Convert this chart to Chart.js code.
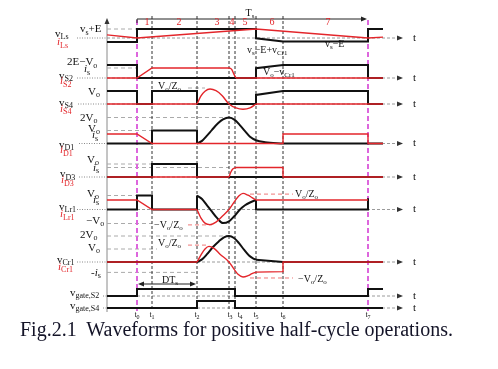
<!DOCTYPE html>
<html><head><meta charset="utf-8">
<script src="https://cdn.jsdelivr.net/npm/chart.js@4/dist/chart.umd.min.js"></script>
<style>
html,body{margin:0;padding:0;background:#fff;}
#wrap{position:relative;width:498px;height:369px;}
#cap{position:absolute;left:20px;top:317px;font:20px "Liberation Serif","Times New Roman",serif;line-height:24px;color:#141428;white-space:pre;}
</style></head><body>
<div id="wrap"><canvas id="c" width="498" height="369"></canvas>
<div id="cap">Fig.2.1  Waveforms for positive half-cycle operations.</div></div>
<script>
// ---- time instants (time units, t0 = 0) ----
const instantNames = ['t0','t1','t2','t3','t4','t5','t6','t7'];
const instantTimes = [0, 15, 60, 92, 98, 119, 146, 231];
const intervalLabels = ['1','2','3','4','5','6','7'];
const intervalCenters = [10, 42, 80, 95, 108, 135, 191];

// ---- waveform values: [time, level] (levels in per-row units) ----
// row 1: vLs / iLs  (unit = vs+E)
const vLs = [[-30,-0.45],[0,-0.45],[0,1],[119,1],[119,-0.03],[146,-0.4],[231,-0.4],[231,1],[246,1]];
const iLs = [[-30,0.35],[0,0],[119,1],[231,0],[246,0.1]];
// row 2: vS2 / iS2  (unit = 2E-Vo)
const vS2 = [[-30,1],[0,1],[0,0],[119,0],[119,0.75],[146,1],[231,1],[231,0],[246,0]];
const iS2_a = [[-30,0],[0,0],[15,0.77],[93,0.77]];
const iS2_b = [[93,0.77],[95,0.62],[97,0.28],[99,0]];
const iS2_c = [[99,0],[246,0]];
// row 3: vS4 / iS4  (unit = Vo)
const vS4 = [[-30,1],[0,1],[0,0],[15,0],[15,1],[60,1],[60,0],[119,0],[119,0.7],[146,1],[231,1],[231,0],[246,0]];
const iS4_a = [[-30,0],[60,0]];
const iS4_b = [[60,0],[64,0.62],[68,0.98],[73,1.15],[79,1.02],[85,0.65],[92,0],[99,-0.3],[106,-0.4],[113,-0.3],[119,0]];
const iS4_c = [[119,0],[246,0]];
// row 4: vD1 / iD1
const vD1_a = [[-30,0],[15,0],[15,1],[60,1],[60,0]];
const vD1_b = [[60,0],[65,0.2],[70,0.6],[75,1.05],[81,1.55],[86,1.85],[92,2.0],[98,1.8],[103,1.4],[108,0.95],[113,0.52],[119,0.25],[128,0.1],[146,0]];
const vD1_c = [[146,0],[246,0]];
const iD1 = [[-30,0.73],[0,0.73],[15,0],[146,0],[146,0.73],[231,0.73],[231,0],[246,0]];
// row 5: vD3 / iD3
const vD3 = [[-30,0],[15,0],[15,1],[60,1],[60,0],[246,0]];
const iD3_a = [[-30,0],[92,0]];
const iD3_b = [[92,0],[94,0.4],[96,0.63],[99,0.73]];
const iD3_c = [[99,0.73],[146,0.73],[146,0],[246,0]];
// row 6: vLr1 / iLr1
const vLr1_a = [[-30,0],[0,0],[0,1],[15,1],[15,0],[60,0],[60,1]];
const vLr1_b = [[60,1],[65,0.75],[70,0.3],[75,-0.15],[80,-0.6],[86,-0.97],[92,-0.85],[97,-0.5],[103,0],[108,0.3],[113,0.5],[119,0.68]];
const vLr1_c = [[119,0.68],[119,0],[231,0],[231,0.8]];
const iLr1_a = [[-30,0.68],[0,0.68],[15,0],[60,0]];
const iLr1_b = [[60,0],[64,-0.62],[68,-0.97],[73,-1.08],[79,-0.9],[85,-0.5],[92,0],[98,0.62],[102,0.98],[106,1.15],[111,1.02],[115,0.85],[119,0.68]];
const iLr1_c = [[119,0.68],[231,0.68]];
// row 7: vCr1 / iCr1
const vCr1_a = [[-30,0],[60,0]];
const vCr1_b = [[60,0],[65,0.2],[70,0.6],[76,1.15],[82,1.6],[87,1.9],[92,2.0],[97,1.85],[102,1.45],[107,0.95],[112,0.5],[116,0.28],[119,0.18]];
const vCr1_c = [[119,0.18],[146,0],[246,0]];
const iCr1_a = [[-30,0],[60,0]];
const iCr1_b = [[60,0],[64,0.55],[68,1.0],[72,1.2],[77,1.05],[83,0.6],[92,0],[97,-0.55],[101,-0.95],[106,-1.15],[111,-1.05],[115,-0.9],[119,-0.78]];
const iCr1_c = [[119,-0.78],[146,-0.74],[146,0],[246,0]];
// rows 8, 9: gate signals
const gS2 = [[-30,0],[0,0],[0,1],[98,1],[98,0],[231,0],[231,1],[246,1]];
const gS4 = [[-30,0],[60,0],[60,1],[98,1],[98,0],[246,0]];

// ---- layout of rows (pixel baseline, px per unit) ----
const rows = {
  Ls:{base:38,scale:9,lab:77}, S2:{base:78,scale:13,lab:77}, S4:{base:104,scale:13,lab:78},
  D1:{base:143.5,scale:13,lab:79}, D3:{base:177,scale:13,lab:79}, Lr:{base:209.5,scale:14,lab:77},
  Cr:{base:262,scale:13,lab:77}, G2:{base:296,scale:7,lab:103}, G4:{base:308,scale:7,lab:103}
};
const RED = '#e3262b', BLK = '#111111';

const series = [
  ['Ls',BLK,[[vLs,0]]], ['Ls',RED,[[iLs,0]]],
  ['S2',BLK,[[vS2,0]]], ['S2',RED,[[iS2_a,0],[iS2_b,1],[iS2_c,0]]],
  ['S4',BLK,[[vS4,0]]], ['S4',RED,[[iS4_a,0],[iS4_b,1],[iS4_c,0]]],
  ['D1',BLK,[[vD1_a,0],[vD1_b,1],[vD1_c,0]]], ['D1',RED,[[iD1,0]]],
  ['D3',BLK,[[vD3,0]]], ['D3',RED,[[iD3_a,0],[iD3_b,1],[iD3_c,0]]],
  ['Lr',BLK,[[vLr1_a,0],[vLr1_b,1],[vLr1_c,0]]], ['Lr',RED,[[iLr1_a,0],[iLr1_b,1],[iLr1_c,0]]],
  ['Cr',BLK,[[vCr1_a,0],[vCr1_b,1],[vCr1_c,0]]], ['Cr',RED,[[iCr1_a,0],[iCr1_b,1],[iCr1_c,0]]],
  ['G2',BLK,[[gS2,0]]], ['G4',BLK,[[gS4,0]]]
];

const datasets = [];
series.forEach(([rk,col,pieces])=>{
  const r = rows[rk];
  pieces.forEach(([pts,smooth])=>{
    datasets.push({
      data: pts.map(([t,v])=>({x:t,y:r.base - v*r.scale})),
      borderColor: col, borderWidth: col===BLK?2:1.4,
      tension: smooth?0.4:0, cubicInterpolationMode: smooth?'monotone':'default',
      pointRadius:0, fill:false, order: col===BLK?1:0, borderJoinStyle:'miter', borderCapStyle:'butt'
    });
  });
});

// reference dashed level lines: [row, level, tStart, tEnd, color]
const refLines = [
  ['Ls',1,-30,0,'g'], ['S2',0.77,-30,0,'g'], ['S4',1.23,51,68,'g'],
  ['D1',2,-30,92,'g'], ['D1',1,-30,15,'g'], ['D3',1,-30,15,'g'], ['D3',0.73,-30,92,'g'],
  ['Lr',1,-30,0,'g'], ['Lr',-1,-30,15,'g'], ['Lr',1.1,113,156,'r'], ['Lr',-1.1,51,75,'r'],
  ['Cr',2,-30,92,'g'], ['Cr',1,-30,20,'g'], ['Cr',-0.8,-30,60,'g'], ['Cr',1.3,51,70,'r'], ['Cr',-1.23,113,156,'r']
];

const SERIF = '"Liberation Serif","Times New Roman",serif';
function rich(ctx, x, y, str, o={}){
  const size=o.size||11, sub=o.sub||Math.round(size*0.72), color=o.color||BLK;
  const toks=[]; const re=/_\{([^}]*)\}|([^_]+)/g; let m;
  while((m=re.exec(str))){ if(m[1]!==undefined) toks.push([m[1],1]); else toks.push([m[2],0]); }
  const fonts=toks.map(t=>(o.italic&&!t[1]?'italic ':'')+(t[1]?sub:size)+'px '+SERIF);
  let w=0; const ws=toks.map((t,i)=>{ctx.font=fonts[i]; const k=ctx.measureText(t[0]).width; w+=k; return k;});
  let cx=x; if(o.align==='center') cx-=w/2; else if(o.align==='right') cx-=w;
  ctx.fillStyle=color; ctx.textBaseline='middle'; ctx.textAlign='left';
  toks.forEach((t,i)=>{ctx.font=fonts[i]; ctx.fillText(t[0],cx,y+(t[1]?size*0.3:0)); cx+=ws[i];});
}

const leftLabels = [
  ['v_{Ls}',55,34,BLK],['i_{Ls}',57,42.5,RED,1],['v_{s}+E',80,29.5,BLK],
  ['2E\u2212V_{o}',67,62.5,BLK],['i_{s}',84,69.5,BLK,1],['v_{S2}',59,76,BLK],['i_{S2}',60,81.5,RED,1],
  ['V_{o}',88,92,BLK],['v_{S4}',59,103,BLK],['i_{S4}',60,109,RED,1],
  ['2V_{o}',80,118,BLK],['V_{o}',88,129,BLK],['i_{s}',92,135.5,BLK,1],['v_{D1}',59,145,BLK],['i_{D1}',60,150.5,RED,1],
  ['V_{o}',87,160,BLK],['i_{s}',93,168,BLK,1],['v_{D3}',60,174.5,BLK],['i_{D3}',61,180.5,RED,1],
  ['V_{o}',87,194,BLK],['i_{s}',93,200,BLK,1],['v_{Lr1}',59,207,BLK],['i_{Lr1}',60,214.5,RED,1],['\u2212V_{o}',86,221,BLK],
  ['2V_{o}',80,235,BLK],['V_{o}',88,248,BLK],['v_{Cr1}',57,260,BLK],['i_{Cr1}',58,267,RED,1],['-i_{s}',91,273,BLK,1],
  ['v_{gate,S2}',70,293,BLK],['v_{gate,S4}',70,306,BLK]
];
const innerLabels = [
  ['v_{s}\u2212E',325,44],['v_{s}\u2212E+v_{Cr1}',247,50],['V_{o}\u2212v_{Cr1}',263,72],
  ['V_{o}/Z_{o}',158,86],['\u2212V_{o}/Z_{o}',154,225],['V_{o}/Z_{o}',295,194],
  ['V_{o}/Z_{o}',158,243],['\u2212V_{o}/Z_{o}',298,279],['DT_{s}',162,280]
];

function arrowHead(ctx,x,y,dir,col){ // dir: 'r','l','u'
  ctx.fillStyle=col; ctx.beginPath();
  if(dir==='r'){ctx.moveTo(x,y);ctx.lineTo(x-6,y-2.5);ctx.lineTo(x-6,y+2.5);}
  else if(dir==='l'){ctx.moveTo(x,y);ctx.lineTo(x+6,y-2.5);ctx.lineTo(x+6,y+2.5);}
  else {ctx.moveTo(x,y);ctx.lineTo(x-2.5,y+6);ctx.lineTo(x+2.5,y+6);}
  ctx.closePath(); ctx.fill();
}

const bgPlugin = {
  id:'bg',
  beforeDatasetsDraw(chart){
    const ctx=chart.ctx, xs=chart.scales.x, ys=chart.scales.y;
    const X=v=>xs.getPixelForValue(v), Y=v=>ys.getPixelForValue(v);
    const ax=X(-30), tEnd=X(266);
    ctx.save();
    // row time axes
    Object.values(rows).forEach(r=>{
      const y=Y(r.base);
      ctx.strokeStyle='#8a8a8a'; ctx.lineWidth=1; ctx.setLineDash([1,1.5]);
      ctx.beginPath(); ctx.moveTo(r.lab,y); ctx.lineTo(ax,y); ctx.stroke();
      ctx.setLineDash([3,2]); ctx.strokeStyle='#9a9a9a';
      ctx.beginPath(); ctx.moveTo(ax,y); ctx.lineTo(tEnd-4,y); ctx.stroke();
      ctx.setLineDash([]); arrowHead(ctx,tEnd,y,'r','#333');
    });
    // vertical axis
    ctx.strokeStyle='#8a8a8a'; ctx.lineWidth=1;
    ctx.beginPath(); ctx.moveTo(ax,Y(312)); ctx.lineTo(ax,Y(22)); ctx.stroke();
    arrowHead(ctx,ax,Y(18),'u','#333');
    // reference level lines
    refLines.forEach(([rk,lv,a,b,c])=>{
      const r=rows[rk], y=Y(r.base-lv*r.scale);
      ctx.strokeStyle=c==='r'?'#ee7777':'#aaaaaa'; ctx.lineWidth=1; ctx.setLineDash([4,3]);
      ctx.beginPath(); ctx.moveTo(X(a),y); ctx.lineTo(X(b),y); ctx.stroke();
    });
    // instant verticals
    instantTimes.forEach((t,i)=>{
      const mag=(i===0||i===instantTimes.length-1);
      ctx.strokeStyle=mag?'#dd66dd':'#333'; ctx.lineWidth=mag?2:1; ctx.setLineDash(mag?[5,3]:[3,2]);
      ctx.beginPath(); ctx.moveTo(X(t),Y(mag?20:16)); ctx.lineTo(X(t),Y(311)); ctx.stroke();
    });
    ctx.setLineDash([]);
    // Ts span line
    const yT=Y(19);
    ctx.strokeStyle='#222'; ctx.lineWidth=1;
    ctx.beginPath(); ctx.moveTo(X(0),Y(23)); ctx.lineTo(X(0),yT); ctx.lineTo(X(231)-4,yT); ctx.stroke();
    arrowHead(ctx,X(231)-1,yT,'r','#222');
    // DTs arrow
    const yD=Y(284);
    ctx.beginPath(); ctx.moveTo(X(0)+4,yD); ctx.lineTo(X(60)-4,yD); ctx.stroke();
    arrowHead(ctx,X(0)+1,yD,'l','#222'); arrowHead(ctx,X(60)-1,yD,'r','#222');
    ctx.restore();
  },
  afterDatasetsDraw(chart){
    const ctx=chart.ctx, xs=chart.scales.x;
    const X=v=>xs.getPixelForValue(v);
    ctx.save();
    leftLabels.forEach(([s,x,y,c,it])=>rich(ctx,x,y,s,{color:c,italic:!!it,size:11,sub:8}));
    innerLabels.forEach(([s,x,y])=>rich(ctx,x,y,s,{size:10,sub:7}));
    intervalLabels.forEach((s,i)=>rich(ctx,X(intervalCenters[i]),22,s,{size:10,color:RED,align:'center'}));
    rich(ctx,250,13,'T_{s}',{size:10,align:'center'});
    instantNames.forEach((s,i)=>{
      const off=(i===4)?5:(i===3?1:0);
      rich(ctx,X(instantTimes[i])+off,315,'t_{'+s.slice(1)+'}',{size:8,sub:6,align:'center'});
    });
    Object.values(rows).forEach(r=>rich(ctx,X(276),r.base,'t',{size:11}));
    ctx.restore();
  }
};

new Chart(document.getElementById('c'),{
  type:'line',
  data:{datasets},
  options:{
    responsive:false, animation:false, events:[],
    layout:{padding:0},
    plugins:{legend:{display:false},tooltip:{enabled:false}},
    scales:{
      x:{type:'linear',display:false,min:-137,max:361},
      y:{type:'linear',display:false,min:0,max:369,reverse:true}
    }
  },
  plugins:[bgPlugin]
});
</script>
</body></html>
